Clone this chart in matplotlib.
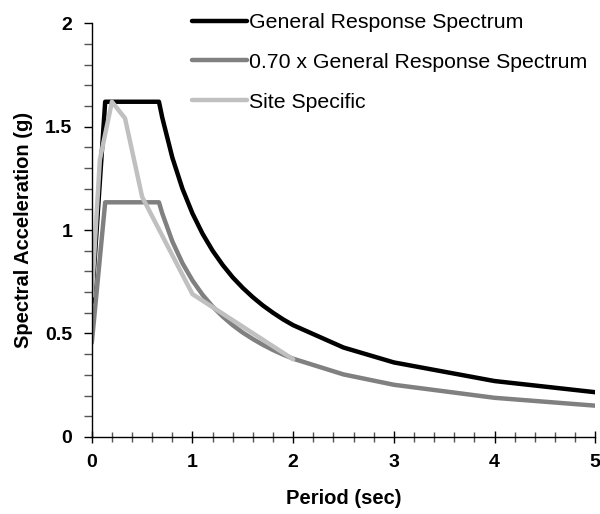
import matplotlib
matplotlib.use("Agg")
import matplotlib.pyplot as plt
from matplotlib.ticker import MultipleLocator

plt.rcParams['font.family'] = ['Liberation Sans', 'DejaVu Sans']

# general design response spectrum
general_T = [0.0, 0.133, 0.667, 0.7, 0.8, 0.9, 1.0, 1.1, 1.2, 1.3, 1.4, 1.5,
             1.6, 1.7, 1.8, 1.9, 2.0, 2.5, 3.0, 4.0, 5.0]
general_Sa = [0.65, 1.62, 1.62, 1.543, 1.35, 1.2, 1.08, 0.982, 0.9, 0.831,
              0.771, 0.72, 0.675, 0.635, 0.6, 0.568, 0.54, 0.432, 0.36,
              0.27, 0.216]

# 70 percent of the general spectrum
reduced_T = general_T
reduced_Sa = [0.455, 1.134, 1.134, 1.08, 0.945, 0.84, 0.756, 0.687, 0.63,
              0.582, 0.54, 0.504, 0.473, 0.445, 0.42, 0.398, 0.378, 0.302,
              0.252, 0.189, 0.151]

# site specific spectrum
site_T = [0.0, 0.08, 0.2, 0.33, 0.5, 1.0, 2.0]
site_Sa = [0.68, 1.34, 1.62, 1.54, 1.16, 0.69, 0.375]


def main():
    fig = plt.figure(figsize=(6.0, 5.14), dpi=100)
    ax = fig.add_axes([0.153, 0.150, 0.839, 0.805])

    ax.plot(general_T, general_Sa, color='black', lw=3.2,
            solid_capstyle='round', solid_joinstyle='round',
            label='General Response Spectrum')
    ax.plot(reduced_T, reduced_Sa, color='#808080', lw=3.2,
            solid_capstyle='round', solid_joinstyle='round',
            label='0.70 x General Response Spectrum')
    ax.plot(site_T, site_Sa, color='#c0c0c0', lw=3.2,
            solid_capstyle='round', solid_joinstyle='round',
            label='Site Specific')

    ax.set_xlim(0, 5)
    ax.set_ylim(0, 2)
    ax.xaxis.set_major_locator(MultipleLocator(1))
    ax.xaxis.set_minor_locator(MultipleLocator(0.2))
    ax.yaxis.set_major_locator(MultipleLocator(0.5))
    ax.yaxis.set_minor_locator(MultipleLocator(0.1))
    ax.yaxis.set_major_formatter(plt.FuncFormatter(lambda v, p: '%g' % v))

    for side in ('top', 'right'):
        ax.spines[side].set_visible(False)
    ax.spines['left'].set_linewidth(1)
    ax.spines['bottom'].set_linewidth(1)

    ax.tick_params(axis='x', which='major', direction='inout', length=9,
                   width=1, pad=8)
    ax.tick_params(axis='x', which='minor', direction='inout', length=7,
                   width=1, color='#555555')
    ax.tick_params(axis='y', which='major', direction='out', length=6,
                   width=1, pad=8)
    ax.tick_params(axis='y', which='minor', direction='out', length=6,
                   width=1, color='#555555')
    for lab in ax.get_xticklabels() + ax.get_yticklabels():
        lab.set_fontsize(14)
        lab.set_fontweight('bold')

    ax.set_xlabel('Period (sec)', fontsize=14.5, fontweight='bold',
                  labelpad=13)
    ax.set_ylabel('Spectral Acceleration (g)', fontsize=14.5,
                  fontweight='bold', labelpad=9)

    ax.legend(loc='upper left', bbox_to_anchor=(0.182, 1.045), frameon=False,
              fontsize=15.3, handlelength=2.6, handletextpad=0.1,
              labelspacing=0.98, borderaxespad=0)

    fig.savefig('out.png', dpi=100)


if __name__ == '__main__':
    main()
